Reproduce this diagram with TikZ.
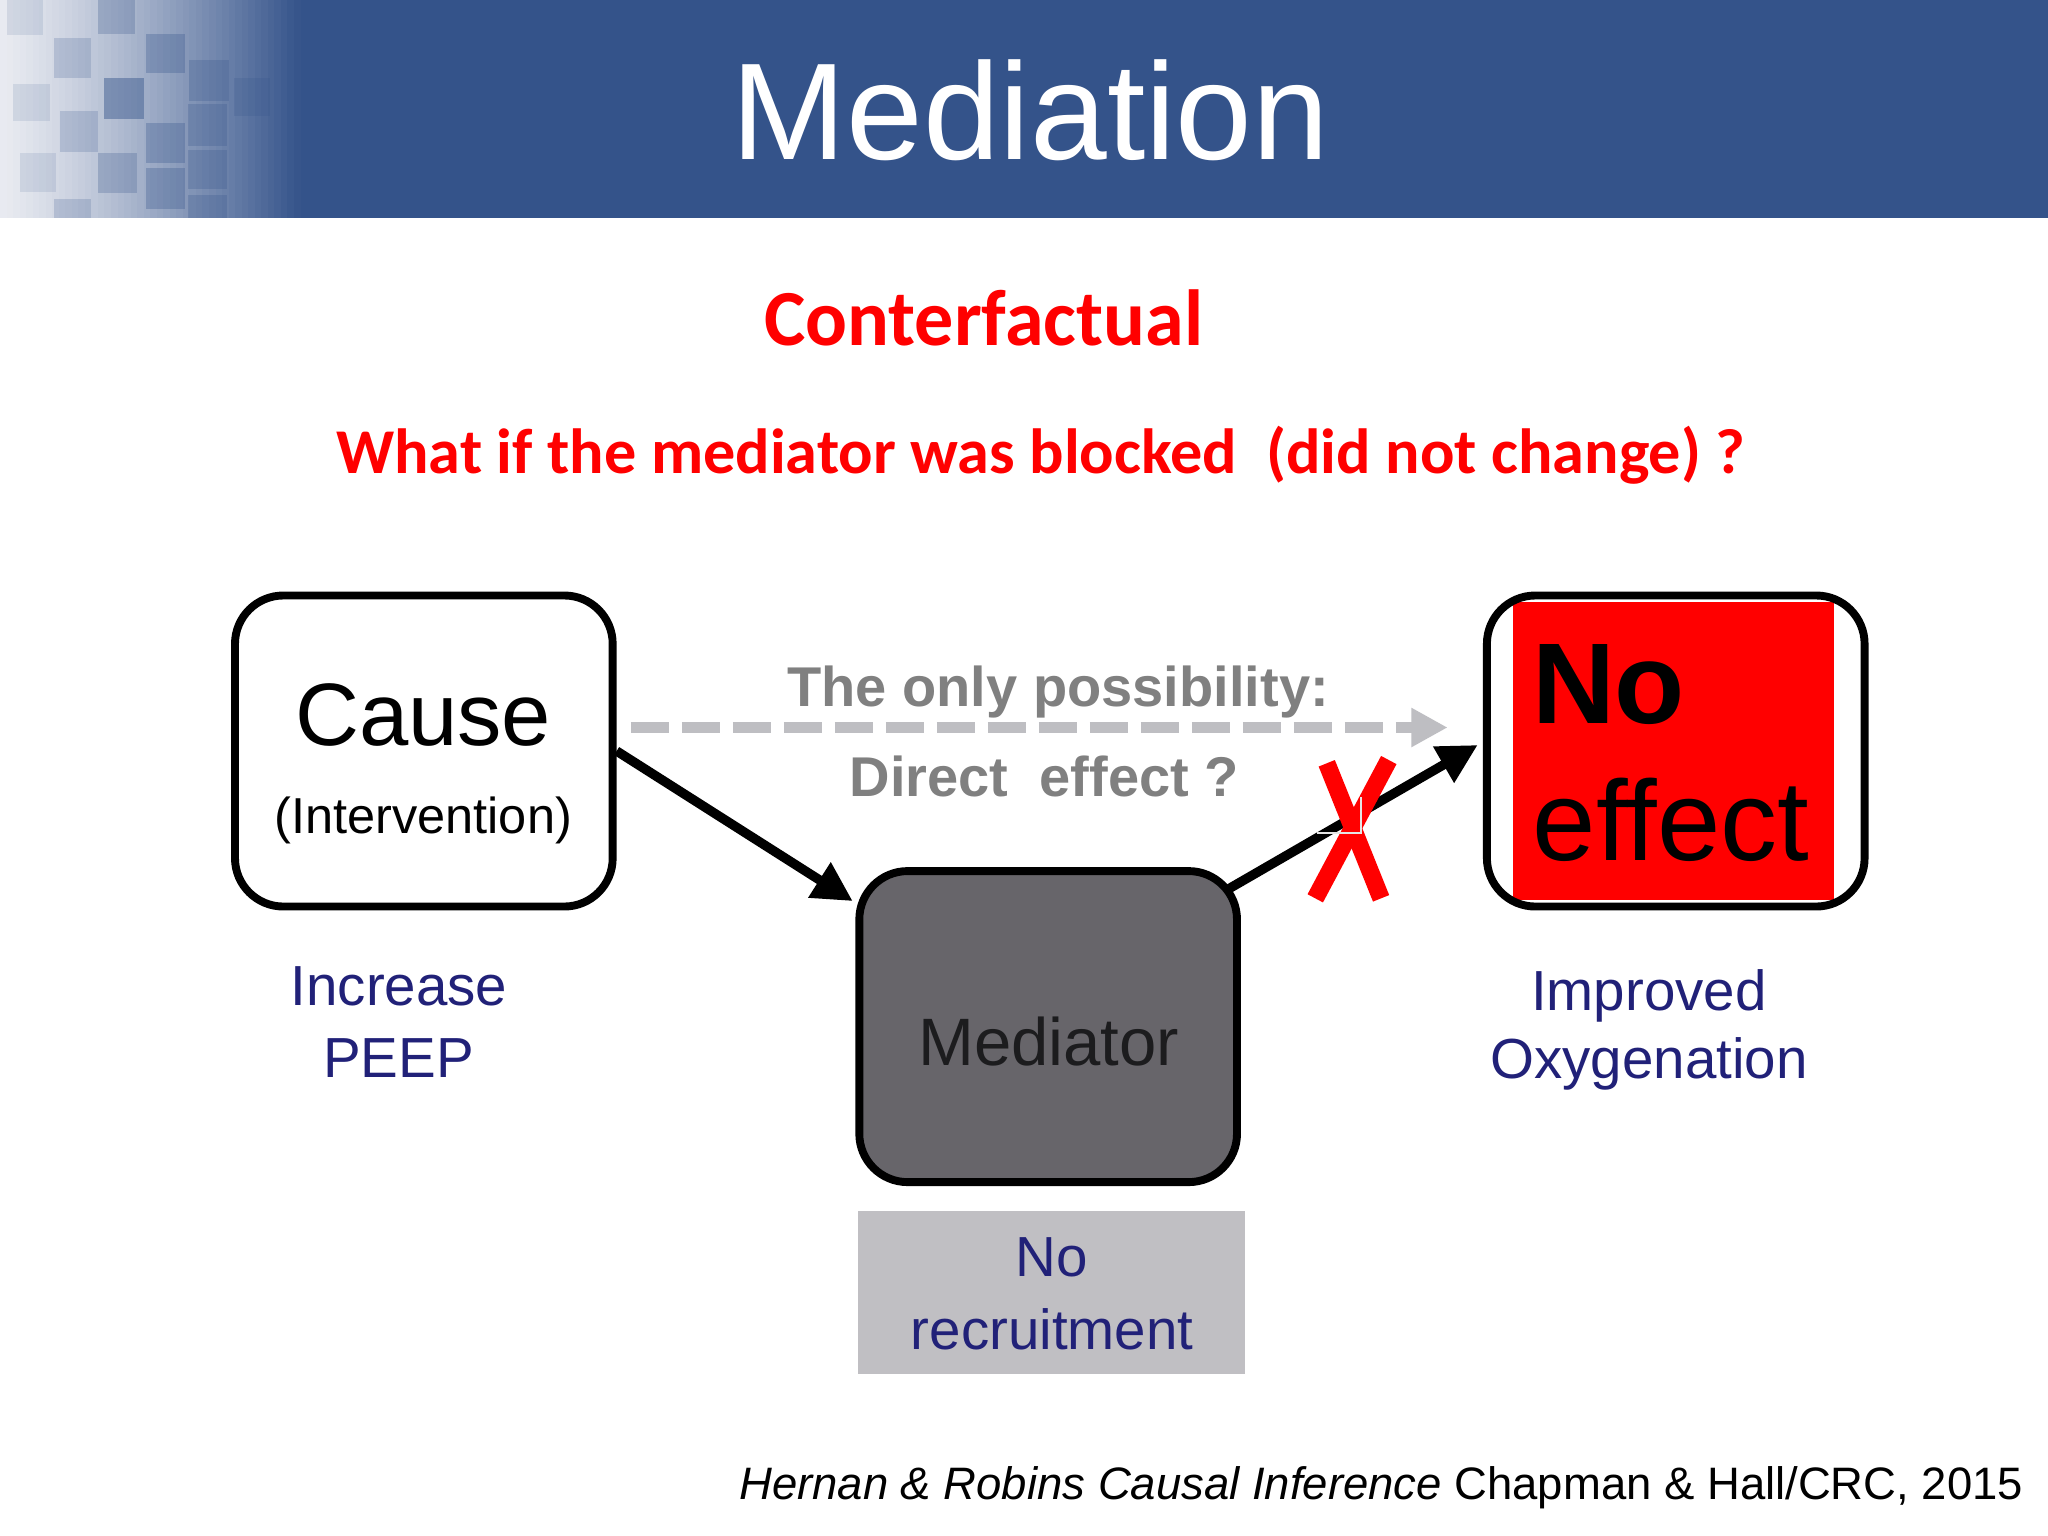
\documentclass[tikz,border=0pt]{standalone}
\usepackage{graphicx}
\usepackage{fontspec}
\setmainfont{Liberation Sans}
\newfontfamily\comicfont{Carlito}
\usetikzlibrary{arrows.meta,calc,backgrounds}
\definecolor{hdrblue}{RGB}{52,83,138}
\definecolor{hdrlight}{RGB}{233,235,241}
\definecolor{navy}{RGB}{33,33,120}
\definecolor{medgray}{RGB}{103,101,106}
\definecolor{medtext}{RGB}{28,28,30}
\definecolor{recgray}{RGB}{192,191,195}
\definecolor{dashgray}{RGB}{190,190,194}
\definecolor{txtgray}{RGB}{128,128,128}
\definecolor{xred}{RGB}{255,0,0}
\tikzset{
  boxstyle/.style={draw=black, line width=1.72pt, rounded corners=0.37cm, inner sep=0pt,
    minimum width=2.89cm, minimum height=2.38cm},
  txt/.style={inner sep=0pt, outer sep=0pt, anchor=base},
  blabel/.style={txt, text=navy, font=\fontsize{12.3}{14}\selectfont},
  arr/.style={draw=black, line width=2.05pt, -{Triangle[length=8.6pt,width=8.6pt]}},
  dasharr/.style={draw=dashgray, line width=2.6pt, dash pattern=on 8.25pt off 2.85pt,
    -{Triangle[length=7.9pt,width=8pt]}},
  xstroke/.style={draw=xred, line width=3.8pt},
}
\begin{document}
\begin{tikzpicture}[x=0.01cm, y=-0.01cm]
\useasboundingbox (0,0) rectangle (1568,1176);
\begin{scope}[on background layer]
  \fill[white] (0,0) rectangle (1568,1176);
\end{scope}
% header band
\fill[hdrblue] (0,0) rectangle (1568,167);
\foreach \i in {0,...,45} {
  \pgfmathsetmacro\p{100*((\i+0.5)/46)^1.25}
  \fill[hdrblue!\p!hdrlight] (\i*5,0) rectangle (\i*5+5.4,167);
}
\foreach \a/\b/\c/\d/\o in {5/0/33/27/0.12, 75/0/103/26/0.25, 41/29/70/60/0.2,
  112/26/142/56/0.3, 145/46/175/77/0.25, 10/64/38/93/0.12, 80/60/110/91/0.45,
  179/60/207/89/0.2, 46/85/75/116/0.2, 112/94/142/125/0.3, 144/80/174/112/0.25,
  15/117/43/147/0.12, 75/117/105/148/0.25, 112/129/142/160/0.3, 144/115/174/145/0.25,
  41/152/70/167/0.2, 144/149/174/167/0.25} {
  \fill[hdrblue, opacity=\o] (\a,\b) rectangle (\c,\d);
}
\node[txt, text=white, font=\fontsize{30}{36}\selectfont] (title) at (789,122) {Mediation};

% red headings
\node[txt, text=xred] (cf) at (753.2,264.2)
  {\resizebox{3.36cm}{0.427cm}{\comicfont\bfseries Conterfactual}};
\node[txt, text=xred] (q) at (796.8,362.4)
  {\resizebox*{10.78cm}{0.445cm}{\comicfont\bfseries What if the mediator was blocked\ \ (did not change)\ ?}};

% boxes
\node[boxstyle, fill=white] (cause) at (324.5,575) {};
\node[boxstyle, fill=medgray] (med) at (802.5,786) {};
\node[fill=xred, inner sep=0pt, minimum width=2.457cm, minimum height=2.28cm] (effred) at (1281.4,574.7) {};
\node[boxstyle] (eff) at (1283,575) {};
\node[fill=recgray, inner sep=0pt, minimum width=2.96cm, minimum height=1.25cm] (rec) at (805,989.5) {};

% box texts
\node[txt, font=\fontsize{19.3}{23}\selectfont] (causeT) at (324,570.5) {Cause};
\node[txt, font=\fontsize{11}{13}\selectfont] (causeS) at (324,638) {(Intervention)};
\node[txt, text=medtext, font=\fontsize{14.6}{17}\selectfont] (medT) at (803,815.5) {Mediator};
\node[txt, anchor=base west, font=\fontsize{25}{30}\selectfont\bfseries] (effT1) at (1173,554) {No};
\node[txt, anchor=base west, font=\fontsize{24.8}{30}\selectfont] (effT2) at (1173.5,658.5) {effect};

% direct effect labels
\node[txt, text=txtgray, font=\fontsize{12.2}{14}\selectfont\bfseries] (dirT1) at (810,541) {The only possibility:};
\node[txt, text=txtgray, font=\fontsize{12.2}{14}\selectfont\bfseries] (dirT2) at (799.5,610) {Direct\ \ effect ?};

% blue labels
\node[blabel] (inc1) at (305.5,770) {Increase};
\node[blabel] (inc2) at (305,825) {PEEP};
\node[blabel] (imp1) at (1262.5,774) {Improved};
\node[blabel] (imp2) at (1262.5,826) {Oxygenation};
\node[blabel] (rec1) at (805.5,977.5) {No};
\node[blabel] (rec2) at (805.5,1033) {recruitment};

% connectors
\draw[dasharr] ($(cause.east)+(11,-18)$) -- ($(eff.west)+(-27,-18)$);
\draw[arr] (cause.east) -- ($(med.north west)+(-2,26)$);
\begin{scope}[on background layer]
  \draw[arr] ($(med.north east)+(-81,58)$) -- ($(eff.west)+(-4,-4.6)$);
\end{scope}

% red cross
\draw[xstroke] (1015.8,584.4) -- (1057.4,687.8);
\draw[xstroke] (1063.3,581.9) -- (1007,687.8);
\draw[white!80!gray, line width=0.5pt] (1008.6,638) -- (1042,638) -- (1042,610);

% citation
\node[txt, anchor=base east, font=\fontsize{9.9}{12}\selectfont] (cite) at (1549,1148)
  {\textit{Hernan \& Robins Causal Inference} Chapman \& Hall/CRC, 2015};
\end{tikzpicture}
\end{document}
